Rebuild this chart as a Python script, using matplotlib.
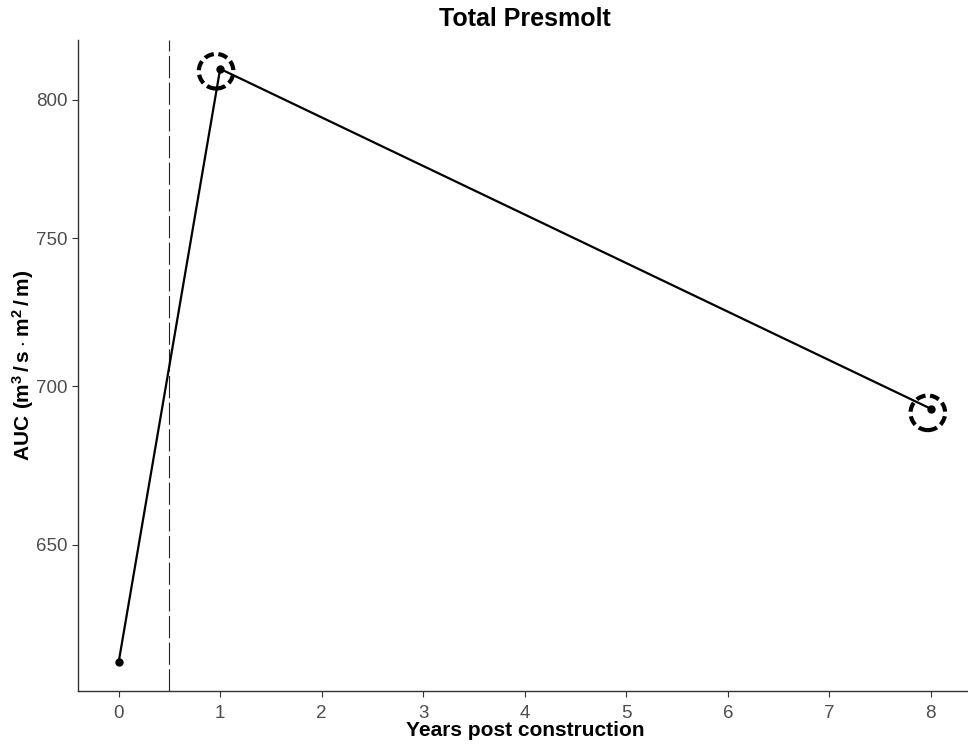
import matplotlib.pyplot as plt
from matplotlib.ticker import FixedLocator, FixedFormatter, NullLocator

plt.rcParams['font.family'] = ['Liberation Sans', 'DejaVu Sans']
plt.rcParams['mathtext.fontset'] = 'custom'
plt.rcParams['mathtext.rm'] = 'Liberation Sans'
plt.rcParams['mathtext.bf'] = 'Liberation Sans:bold'

# --- data ---
years = [0, 1, 8]
auc = [615.3, 811.7, 692.6]
circle_years = [0.96, 7.97]
circle_auc = [810.8, 691.3]
construction_year = 0.5
x_ticks = [0, 1, 2, 3, 4, 5, 6, 7, 8]
y_ticks = [650, 700, 750, 800]

fig = plt.figure(figsize=(9.68, 7.44), dpi=100)
ax = fig.add_axes([0.0806, 0.0712, 0.923, 0.8750])

ax.axvline(construction_year, color='#222222', lw=0.8, linestyle=(0, (20, 4)))
ax.plot(years, auc, color='black', lw=1.6, marker='o', ms=5, zorder=3)
ax.scatter(circle_years, circle_auc, s=620, facecolors='none', edgecolors='black',
           linewidths=3, linestyles=(0, (2.3, 1.1)), zorder=4)

ax.set_yscale('log')
ax.set_xlim(-0.4, 8.4)
ax.set_ylim(607.1, 822.7)
ax.yaxis.set_major_locator(FixedLocator(y_ticks))
ax.yaxis.set_major_formatter(FixedFormatter([str(v) for v in y_ticks]))
ax.yaxis.set_minor_locator(NullLocator())
ax.set_xticks(x_ticks)

for s in ['top', 'right']:
    ax.spines[s].set_visible(False)
for s in ['left', 'bottom']:
    ax.spines[s].set_color('#333333')
    ax.spines[s].set_linewidth(1.0)
ax.tick_params(colors='#333333', labelcolor='#4D4D4D', labelsize=13.5, length=4, width=0.8)
ax.tick_params(axis='x', pad=6)

ax.set_title('Total Presmolt', fontsize=18, fontweight='bold', pad=10)
ax.set_xlabel('Years post construction', fontsize=15, fontweight='bold', labelpad=-1)
ax.set_ylabel(r'$\mathbf{AUC\ (m^3\,/\,s \cdot m^2\,/\,m)}$', fontsize=15, labelpad=0)

fig.savefig('out.png', dpi=100)
